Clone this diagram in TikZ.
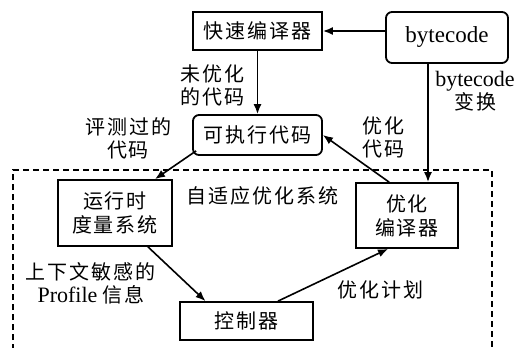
\documentclass[tikz,border=0pt]{standalone}
\usepackage{fontspec}
\setmainfont{Liberation Serif}
\newfontfamily\cjk[LetterSpace=10]{Noto Sans CJK SC}
\usetikzlibrary{arrows.meta}
\newcommand{\zh}[1]{{\cjk #1}}
\begin{document}
\begin{tikzpicture}[x=1pt,y=-1pt,
  box/.style={draw,line width=1.8pt,inner sep=0pt,font=\fontsize{20}{24}\selectfont,align=center},
  rbox/.style={box,rounded corners=6pt},
  lbl/.style={inner sep=0pt,font=\fontsize{20}{23}\selectfont,align=center},
  arr/.style={line width=1.6pt,-{Latex[length=10pt,width=8pt]}}]
\useasboundingbox (0,0) rectangle (523,348);
\draw[dashed,line width=1.4pt,dash pattern=on 6pt off 4pt] (13,400) -- (13,170) -- (492,170) -- (492,400);
\node[box,minimum width=129pt,minimum height=38pt] (fast) at (257.5,31) {\zh{快速编译器}};
\node[rbox,minimum width=122pt,minimum height=51pt,font=\fontsize{23}{26}\selectfont] (bc) at (447,37.5) {bytecode};
\node[rbox,minimum width=129pt,minimum height=40pt] (exec) at (257.5,135) {\zh{可执行代码}};
\node[box,minimum width=114pt,minimum height=66pt] (rt) at (115,213) {\zh{运行时}\\\zh{度量系统}};
\node[box,minimum width=102pt,minimum height=65pt] (opt) at (407,215.5) {\zh{优化}\\\zh{编译器}};
\node[box,minimum width=133pt,minimum height=38pt] (ctl) at (246.5,321) {\zh{控制器}};
\node[lbl] (l1) at (212,85) {\zh{未优化}\\\zh{的代码}};
\node[lbl] (l2) at (475,91) {{\fontsize{22}{23}\selectfont bytecode}\\\zh{变换}};
\node[lbl] (l3) at (128,138) {\zh{评测过的}\\\zh{代码}};
\node[lbl] (l4) at (383,137) {\zh{优化}\\\zh{代码}};
\node[lbl] (l5) at (262,196) {\zh{自适应优化系统}};
\node[lbl] (l6) at (91,283) {\zh{上下文敏感的}\\{\fontsize{22}{23}\selectfont Profile} \zh{信息}};
\node[lbl] (l7) at (380,290) {\zh{优化计划}};
\draw[arr] (fast.east -| bc.west) -- (fast.east);
\draw[arr] (fast.south) -- (exec.north);
\draw[arr] ([xshift=-19pt]bc.south) -- ([xshift=-19pt]bc.south |- opt.north);
\draw[arr] ([xshift=4pt,yshift=5pt]exec.south west) -- ([xshift=40pt]rt.north);
\draw[arr] ([xshift=34pt]opt.north west) -- (exec.east);
\draw[arr] ([xshift=33pt]rt.south) -- ([xshift=-41pt]ctl.north);
\draw[arr] ([xshift=31.5pt]ctl.north) -- ([xshift=-19pt]opt.south);
\end{tikzpicture}
\end{document}
